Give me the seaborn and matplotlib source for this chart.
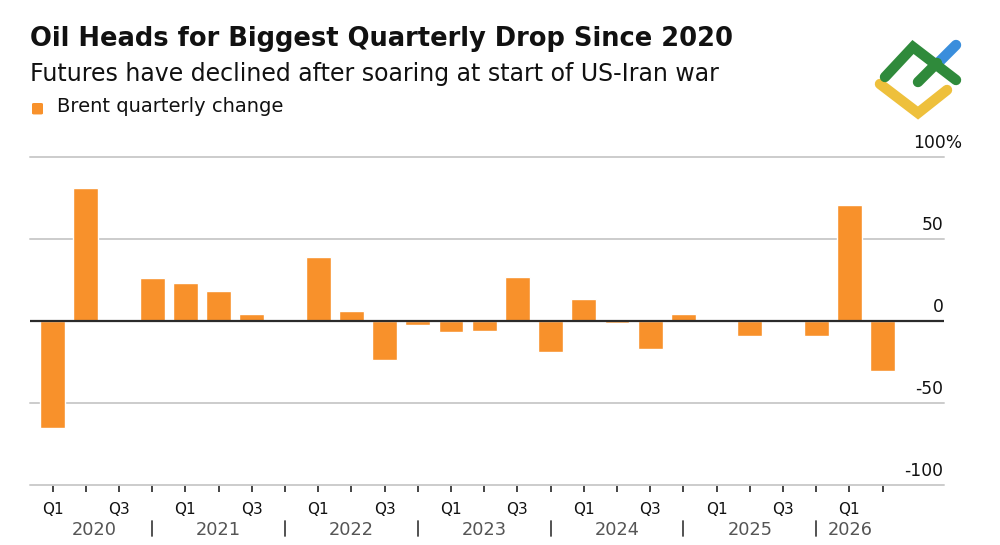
"""
Brent quarterly change bar chart (Bloomberg style).
"""

import numpy as np
import pandas as pd
import matplotlib.pyplot as plt
from matplotlib.lines import Line2D
from matplotlib.patches import FancyBboxPatch
from matplotlib.transforms import blended_transform_factory
import seaborn as sns

# data
years = ["2020", "2021", "2022", "2023", "2024", "2025", "2026"]
quarters = ["Q1", "Q2", "Q3", "Q4"]
periods = [f"{y} {q}" for y in years for q in quarters][:26]
brent_change = [
    -65, 81, 0.5, 26,
    23, 18, 4.5, -0.6,
    39, 6, -23.5, -2.2,
    -7, -6, 27, -19,
    13.5, -1.4, -17, 4,
    0, -9.3, -0.8, -9,
    71, -30.5,
]
y_ticks = [-100, -50, 0, 50, 100]
y_tick_labels = ["-100", "-50", "0", "50", "100%"]
# where each year label sits (bar index units)
year_pos = [1.27, 5, 9, 13, 17, 21, 23.35]

ORANGE = "#F8912B"

df = pd.DataFrame({"period": periods, "change": brent_change})

sns.set_theme(style="white")
plt.rcParams["font.family"] = ["DejaVu Sans"]

fig = plt.figure(figsize=(10, 5.45), dpi=100)
ax = fig.add_axes([0.03, 0.1101, 0.914, 0.6018])

sns.barplot(data=df, x="period", y="change", color=ORANGE, saturation=1,
            width=0.75, ax=ax, zorder=2)

ax.set_xlim(-0.68, 26.85)
ax.set_ylim(-100, 100)
for s in ax.spines.values():
    s.set_visible(False)
ax.set_xlabel("")
ax.set_ylabel("")

# gridlines
for v in y_ticks:
    if v == 0:
        ax.axhline(v, color="#2b2b2b", lw=1.6, zorder=3)
    else:
        ax.axhline(v, color="#cccccc", lw=1.4, zorder=1, clip_on=False)

# y labels sit above the gridlines at the right edge
ax.set_yticks([])
tr_y = blended_transform_factory(ax.transAxes, ax.transData)
for v, lab in zip(y_ticks, y_tick_labels):
    xpos = 1.0205 if lab.endswith("%") else 0.9995
    ax.text(xpos, v + 5.5, lab, transform=tr_y, ha="right", va="baseline",
            fontsize=12.3, color="#111111")

# x ticks: every quarter, labels on Q1 and Q3
ax.set_xticks(range(len(periods)))
ax.set_xticklabels([p.split()[1] if p.split()[1] in ("Q1", "Q3") else ""
                    for p in periods], fontsize=11, color="#111111")
ax.tick_params(axis="x", length=5, width=1.2, pad=7, bottom=True)
for i, t in enumerate(ax.xaxis.get_major_ticks()):
    q = periods[i].split()[1]
    t.tick1line.set_color("#c8c8c8" if q == "Q2" else "#222222")

# year labels and separators
tr_x = blended_transform_factory(ax.transData, ax.transAxes)
for yr, xc in zip(years, year_pos):
    ax.text(xc, -0.1524, yr, transform=tr_x,
            ha="left" if yr == years[-1] else "center", va="baseline",
            fontsize=12.8, color="#555555")
for k in range(6):
    sep = 3 + 4 * k
    ax.add_line(Line2D([sep, sep], [-0.11, -0.157], transform=tr_x,
                       color="#444444", lw=1.3, clip_on=False))

# titles and legend
fig.text(0.03, 0.916, "Oil Heads for Biggest Quarterly Drop Since 2020",
         fontsize=18.5, fontweight="bold", color="#111111", va="baseline")
fig.text(0.03, 0.852, "Futures have declined after soaring at start of US-Iran war",
         fontsize=17, color="#111111", va="baseline")
fig.patches.append(FancyBboxPatch((0.032, 0.79), 0.011, 0.021,
                                  boxstyle="round,pad=0,rounding_size=0.002",
                                  transform=fig.transFigure,
                                  facecolor=ORANGE, edgecolor="none"))
fig.text(0.057, 0.795, "Brent quarterly change", fontsize=14, color="#111111",
         va="baseline")

# logo in the top right corner
def seg(pts, color):
    xs = [p[0] / 1000 for p in pts]
    ys = [1 - p[1] / 545 for p in pts]
    fig.add_artist(Line2D(xs, ys, transform=fig.transFigure, color=color, lw=7.5,
                          solid_capstyle="round", solid_joinstyle="miter"))

seg([(938, 63), (956, 45)], "#3A8EDC")
seg([(880, 84), (918, 113), (947, 90)], "#EEC03C")
seg([(885, 77), (913, 47), (956, 80)], "#2F8A3B")
seg([(918, 82), (937, 63)], "#2F8A3B")

fig.savefig("out.png", dpi=100, facecolor="white")
